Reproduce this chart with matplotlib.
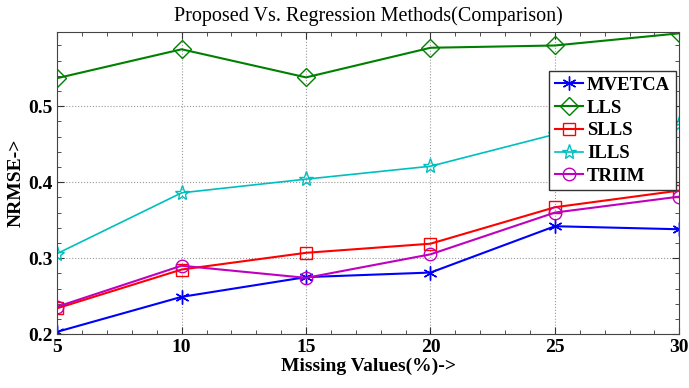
import numpy as np
import matplotlib
matplotlib.use('Agg')
import matplotlib.pyplot as plt
from matplotlib.ticker import MultipleLocator

missing = [5, 10, 15, 20, 25, 30]
mvetca = [0.203, 0.249, 0.275, 0.281, 0.342, 0.338]
lls = [0.537, 0.575, 0.538, 0.577, 0.580, 0.596]
slls = [0.234, 0.285, 0.307, 0.319, 0.367, 0.389]
ills = [0.306, 0.386, 0.404, 0.421, 0.463, 0.476]
triim = [0.236, 0.290, 0.274, 0.305, 0.360, 0.381]

plt.rcParams['font.family'] = ['Liberation Serif', 'DejaVu Serif']

fig = plt.figure(figsize=(6.89, 3.88), dpi=100)
ax = fig.add_axes([0.083, 0.139, 0.903, 0.779])

ax.plot(missing, mvetca, color='blue', marker=(6, 2, 0), markersize=10, lw=1.5, label='MVETCA')
ax.plot(missing, lls, color='green', marker='D', markersize=9, mfc='none', lw=1.5, label='LLS')
ax.plot(missing, slls, color='red', marker='s', markersize=8, mfc='none', lw=1.5, label='SLLS')
ax.plot(missing, ills, color='#00bfbf', marker='*', markersize=11, mfc='none', lw=1.2, label='ILLS')
ax.plot(missing, triim, color='#bf00bf', marker='o', markersize=9, mfc='none', lw=1.5, label='TRIIM')

ax.set_xlim(5, 30)
ax.set_ylim(0.2, 0.598)
ax.set_xticks([5, 10, 15, 20, 25, 30])
ax.set_yticks([0.2, 0.3, 0.4, 0.5])
ax.set_yticklabels(['0.2', '0.3', '0.4', '0.5'])
ax.xaxis.set_minor_locator(MultipleLocator(1))
ax.yaxis.set_minor_locator(MultipleLocator(0.02))
ax.tick_params(which='both', direction='in', top=True, right=True, labelsize=14, colors='#333333', labelcolor='black')
ax.tick_params(which='major', length=5)
ax.tick_params(which='minor', length=3)
for lbl in ax.get_xticklabels() + ax.get_yticklabels():
    lbl.set_fontweight('bold')
ax.grid(True, which='major', linestyle=':', color='#999999', lw=0.8)
for s in ax.spines.values():
    s.set_color('#444444')

ax.set_title('Proposed Vs. Regression Methods(Comparison)', fontsize=14.5, pad=8)
ax.set_xlabel('Missing Values(%)->', fontsize=14, fontweight='bold', labelpad=1)
ax.set_ylabel('NRMSE->', fontsize=14, fontweight='bold', labelpad=2)

leg = ax.legend(loc='upper right', bbox_to_anchor=(0.994, 0.87), borderaxespad=0, fancybox=False,
                framealpha=1, edgecolor='#333333', handlelength=1.5, handletextpad=0.2,
                borderpad=0.3, labelspacing=0.3, prop={'size': 13.5, 'weight': 'bold'})

fig.savefig('out.png', dpi=100)
